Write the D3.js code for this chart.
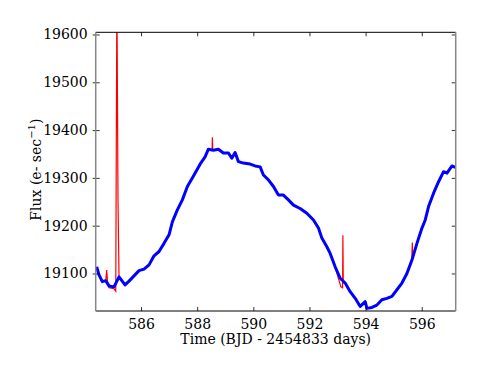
<!DOCTYPE html>
<html>
<head>
<meta charset="utf-8">
<script src="https://cdn.jsdelivr.net/npm/d3@7"></script>
<style>
  html, body { margin: 0; padding: 0; background: #fff; }
  svg { display: block; }
  text { font-family: "DejaVu Serif", serif; fill: #000; }
</style>
</head>
<body>
<svg id="chart" width="485" height="376"></svg>
<script>
// Smoothed (detrended) light curve: time (BJD - 2454833) and flux
const smoothTime = [584.421,584.503,584.620,584.742,584.859,585.037,585.216,585.430,585.572,585.750,
  585.929,586.107,586.285,586.463,586.641,586.819,586.998,587.116,587.294,587.472,587.651,587.889,
  588.128,588.282,588.399,588.578,588.756,588.934,589.113,589.234,589.351,589.469,589.647,589.886,
  590.064,590.243,590.360,590.538,590.717,590.895,591.073,591.251,591.430,591.668,591.907,592.143,
  592.321,592.442,592.620,592.738,592.916,593.095,593.273,593.451,593.630,593.808,593.986,594.047,
  594.225,594.403,594.581,594.759,594.938,595.116,595.294,595.472,595.651,595.829,596.007,596.125,
  596.243,596.421,596.600,596.778,596.899,597.077,597.195];
const smoothFlux = [19114,19097,19083,19085,19074,19072,19093,19076,19084,19095,
  19106,19109,19118,19137,19146,19163,19181,19208,19233,19254,19282,19306,
  19331,19344,19360,19358,19360,19352,19352,19341,19353,19334,19331,19329,
  19325,19323,19306,19296,19282,19264,19264,19254,19243,19236,19226,19212,
  19195,19174,19156,19142,19114,19090,19080,19062,19048,19031,19041,19027,
  19029,19034,19045,19048,19052,19066,19080,19100,19128,19163,19195,19212,
  19240,19268,19292,19313,19310,19325,19322];

// Raw flux including outliers (only the spikes / dips deviate from the smooth curve)
const rawTime = [584.421,584.503,584.620,584.742,584.777,584.810,584.859,585.037,585.100,585.140,585.180,
  585.216,585.430,585.572,585.750,585.929,586.107,586.285,586.463,586.641,586.819,586.998,587.116,
  587.294,587.472,587.651,587.889,588.128,588.282,588.399,588.530,588.542,588.556,588.578,588.756,
  588.934,589.113,589.234,589.351,589.469,589.647,589.886,590.064,590.243,590.360,590.538,590.717,
  590.895,591.073,591.251,591.430,591.668,591.907,592.143,592.321,592.442,592.620,592.738,592.916,
  593.020,593.120,593.180,593.191,593.205,593.273,593.451,593.630,593.808,593.986,594.047,594.225,
  594.403,594.581,594.759,594.938,595.116,595.294,595.472,595.640,595.665,595.680,595.829,596.007,
  596.125,596.243,596.421,596.600,596.778,596.899,597.077,597.195];
const rawFlux = [19114,19097,19083,19085,19107,19080,19070,19068,19063,19700,19250,
  19093,19076,19084,19095,19106,19109,19118,19137,19146,19163,19181,19208,
  19233,19254,19282,19306,19331,19344,19360,19358,19385,19358,19358,19360,
  19352,19352,19341,19353,19334,19331,19329,19325,19323,19306,19296,19282,
  19264,19264,19254,19243,19236,19226,19212,19195,19174,19156,19142,19114,
  19092,19072,19070,19180,19080,19080,19062,19048,19031,19041,19027,19029,
  19034,19045,19048,19052,19066,19080,19100,19125,19165,19135,19163,19195,
  19212,19240,19268,19292,19313,19310,19325,19322];

const xTicks = [586, 588, 590, 592, 594, 596];
const yTicks = [19100, 19200, 19300, 19400, 19500, 19600];
const xLabel = "Time (BJD - 2454833 days)";

const svg = d3.select("#chart");
const L = 95.7, R = 455.7, T = 32.3, B = 311;

const x = d3.scaleLinear().domain([584.385, 597.21]).range([L, R]);
const y = d3.scaleLinear().domain([19021.5, 19604.6]).range([B, T]);

svg.append("defs").append("clipPath").attr("id", "clip")
  .append("rect").attr("x", L).attr("y", T).attr("width", R - L).attr("height", B - T);

const g = svg.append("g").attr("clip-path", "url(#clip)");

const rawData = rawTime.map((t, i) => [t, rawFlux[i]]);
const smoothData = smoothTime.map((t, i) => [t, smoothFlux[i]]);
const line = d3.line().x(d => x(d[0])).y(d => y(d[1]));

g.append("path").datum(rawData).attr("d", line)
  .attr("fill", "none").attr("stroke", "#ff0000").attr("stroke-width", 1.2);
g.append("path").datum(smoothData).attr("d", line)
  .attr("fill", "none").attr("stroke", "#888").attr("stroke-width", 1);
g.append("path").datum(smoothData).attr("d", line)
  .attr("fill", "none").attr("stroke", "#0000ff").attr("stroke-width", 3)
  .attr("stroke-linejoin", "round");

// Axes (ticks inward)
const fs = "14px";
const axBottom = svg.append("g").attr("transform", `translate(0,${B})`)
  .call(d3.axisBottom(x).tickValues(xTicks).tickFormat(d3.format("d")).tickSizeInner(-4).tickSizeOuter(0).tickPadding(8));
const axTop = svg.append("g").attr("transform", `translate(0,${T})`)
  .call(d3.axisTop(x).tickValues(xTicks).tickFormat("").tickSizeInner(-4).tickSizeOuter(0));
const axLeft = svg.append("g").attr("transform", `translate(${L},0)`)
  .call(d3.axisLeft(y).tickValues(yTicks).tickFormat(d3.format("d")).tickSizeInner(-4).tickSizeOuter(0).tickPadding(8));
const axRight = svg.append("g").attr("transform", `translate(${R},0)`)
  .call(d3.axisRight(y).tickValues(yTicks).tickFormat("").tickSizeInner(-4).tickSizeOuter(0));

[axBottom, axTop, axLeft, axRight].forEach(a => {
  a.select(".domain").remove();
  a.selectAll(".tick line").attr("stroke", "#000").attr("stroke-width", 0.8);
  a.selectAll(".tick text").style("font-family", "'DejaVu Serif', serif").style("font-size", fs).attr("fill", "#000");
});
axLeft.selectAll(".tick line").attr("x1", -3);

// Spines
svg.append("line").attr("x1", L).attr("x2", R).attr("y1", T).attr("y2", T).attr("stroke", "#000").attr("stroke-width", 1);
svg.append("line").attr("x1", L).attr("x2", R).attr("y1", B).attr("y2", B).attr("stroke", "#000").attr("stroke-width", 1);
svg.append("line").attr("x1", L).attr("x2", L).attr("y1", T).attr("y2", B).attr("stroke", "#888").attr("stroke-width", 1.5);
svg.append("line").attr("x1", R).attr("x2", R).attr("y1", T).attr("y2", B).attr("stroke", "#888").attr("stroke-width", 1.5);

// Axis labels
svg.append("text").attr("x", (L + R) / 2).attr("y", 344).attr("text-anchor", "middle")
  .style("font-size", "14px").text(xLabel);

const yl = svg.append("text").attr("transform", `translate(41,${(T + B) / 2 - 2}) rotate(-90)`)
  .attr("text-anchor", "middle").style("font-size", "14px");
yl.append("tspan").text("Flux (e- sec");
yl.append("tspan").attr("dy", -6).style("font-size", "10px").text("\u22121");
yl.append("tspan").attr("dy", 6).text(")");
</script>
</body>
</html>
